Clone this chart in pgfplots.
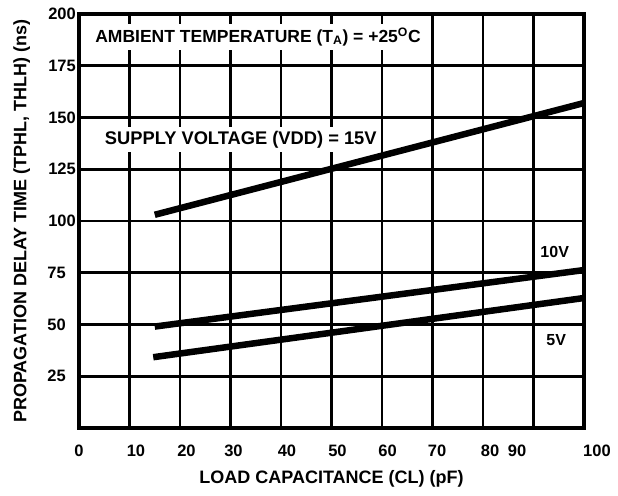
\documentclass[border=0pt]{standalone}
\usepackage{pgfplots}
\pgfplotsset{compat=1.18}
\usepackage{fontspec}
\setmainfont{Liberation Sans}

% shift a centred tick label right (+) or left (-) by #1
\newcommand{\rs}[2]{\hspace*{#1}#2}
\newcommand{\ls}[2]{#2\hspace*{#1}}

\begin{document}
\begin{tikzpicture}
\begin{axis}[
    scale only axis,
    width=505pt, height=414pt,
    xmin=0, xmax=100,
    ymin=0, ymax=200,
    xtick={0,10,20,30,40,50,60,70,80,90,100},
    % labels sit slightly off the grid lines, as in the original
    xticklabels={0,\rs{13pt}{10},\rs{13pt}{20},\rs{6pt}{30},\rs{12pt}{40},\rs{12pt}{50},
                 \rs{11pt}{60},\rs{9pt}{70},\rs{14pt}{80},\ls{33pt}{90},\rs{26pt}{100}},
    ytick={25,50,75,100,125,150,175,200},
    yticklabels={25\hspace*{10pt},50\hspace*{10pt},75\hspace*{10pt},100,125,150,175,200},
    grid=major,
    grid style={black, line width=2.8pt},
    axis line style={line width=3.5pt},
    major tick length=0pt,
    tick label style={font=\fontsize{16.5}{18}\selectfont\bfseries, inner sep=0pt},
    /pgf/number format/assume math mode=true,
    xticklabel style={anchor=north, yshift=-17pt},
    yticklabel style={anchor=east, xshift=-3pt},
    xlabel={LOAD CAPACITANCE (CL) (pF)},
    ylabel={PROPAGATION DELAY TIME (TPHL, THLH) (ns)},
    label style={font=\fontsize{18}{20}\selectfont\bfseries, inner sep=0pt},
    xlabel style={at={(axis description cs:0.5,-0.133)}, anchor=base},
    ylabel style={at={(axis description cs:-0.104,0.5)}, anchor=base},
    clip=false,
]
% 15V
\addplot[black, line width=6.5pt] coordinates {(15,103) (100,157)};
% 10V
\addplot[black, line width=6.5pt] coordinates {(15,49) (100,76.3)};
% 5V
\addplot[black, line width=6.5pt] coordinates {(14.7,34.2) (100,62.8)};

\node[fill=white, anchor=west, inner xsep=3pt, inner ysep=4pt, font=\fontsize{17.5}{20}\selectfont\bfseries]
    at (axis cs:2.6,189) {AMBIENT TEMPERATURE (T\textsubscript{A}) = +25\textsuperscript{O}C};
\node[fill=white, anchor=west, inner xsep=3pt, inner ysep=4pt, font=\fontsize{18.3}{20}\selectfont\bfseries]
    at (axis cs:4.5,139.4) {SUPPLY VOLTAGE (VDD) = 15V};
\node[fill=white, inner sep=1pt, font=\fontsize{16}{18}\selectfont\bfseries]
    at (axis cs:94.2,85) {10V};
\node[fill=white, inner sep=1pt, font=\fontsize{16}{18}\selectfont\bfseries]
    at (axis cs:94.5,42.7) {5V};

% page margins of the original
\path (rel axis cs:0,0) ++(-79pt,-67pt) (rel axis cs:1,1) ++(34pt,14pt);
\end{axis}
\end{tikzpicture}
\end{document}
